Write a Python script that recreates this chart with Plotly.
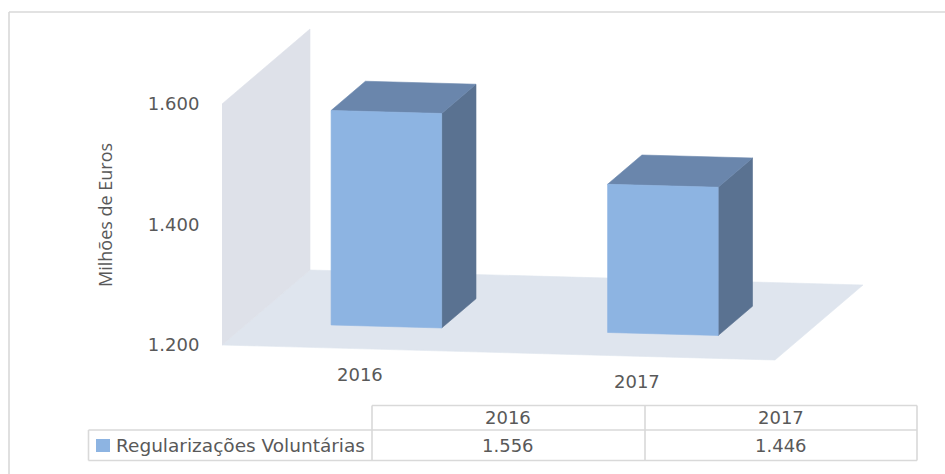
import plotly.graph_objects as go

categories = ["2016", "2017"]
series_name = "Regularizações Voluntárias"
values = [1556, 1446]
value_labels = ["1.556", "1.446"]
tick_values = [1200, 1400, 1600]
tick_labels = ["1.200", "1.400", "1.600"]
axis_title = "Milhões de Euros"

W, H = 945, 474
LEFT = 222          # pixel of category-axis start
BASE_PX = 345       # pixel of value 1200
PX_PER_CAT = 276.5
PX_PER_VAL = 0.6025
DEPTH_DX, DEPTH_DY = 88, 75
SLOPE = 7.5         # pixel drop per category unit along the front edge
BASE = tick_values[0]
TOP = tick_values[-1]
U_MAX = len(categories)
BAR_W, BAR_D0, BAR_D = 0.4, 0.297, 0.39
FONT = "DejaVu Sans"
TXT = "#595959"
GRID = "#d9d9d9"


def proj(u, d, v):
    """Oblique projection of (category, depth, value) onto the 2-D axes."""
    return (u + d * DEPTH_DX / PX_PER_CAT,
            v + (DEPTH_DY * d - SLOPE * u) / PX_PER_VAL)


def face(points, color):
    xy = [proj(*p) for p in points]
    xy.append(xy[0])
    return go.Scatter(x=[p[0] for p in xy], y=[p[1] for p in xy], mode="lines",
                      fill="toself", fillcolor=color, line=dict(width=0.6, color=color),
                      hoverinfo="skip", showlegend=False)


fig = go.Figure()
fig.add_trace(face([(0, 0, BASE), (0, 1, BASE), (U_MAX, 1, BASE), (U_MAX, 0, BASE)], "#dfe5ee"))
fig.add_trace(face([(0, 0, BASE), (0, 1, BASE), (0, 1, TOP), (0, 0, TOP)], "#dee1e9"))

for i, val in enumerate(values):
    a, b = i + 0.5 - BAR_W / 2, i + 0.5 + BAR_W / 2
    d0, d1 = BAR_D0, BAR_D0 + BAR_D
    fig.add_trace(face([(b, d0, BASE), (b, d1, BASE), (b, d1, val), (b, d0, val)], "#5a7291"))
    fig.add_trace(face([(a, d0, val), (a, d1, val), (b, d1, val), (b, d0, val)], "#6a86ac"))
    fig.add_trace(face([(a, d0, BASE), (b, d0, BASE), (b, d0, val), (a, d0, val)], "#8db4e2"))

annotations = []
for i, cat in enumerate(categories):
    x, y = proj(i + 0.5, 0, BASE)
    annotations.append(dict(x=x, y=y, text=cat, showarrow=False, yshift=-25.5, yanchor="middle",
                            font=dict(family=FONT, size=18, color=TXT)))


def px(x):
    return (x - LEFT) / (W - LEFT)


def py(y):
    return 1 - y / H


def note(x, y, text, size=18, family=FONT, xanchor="center", **kw):
    annotations.append(dict(x=px(x), y=py(y), xref="paper", yref="paper", text=text,
                            showarrow=False, xanchor=xanchor, yanchor="middle",
                            font=dict(family=family, size=size, color=TXT), **kw))


note(105, 215, axis_title, size=18, family="Open Sans", textangle=-90)
col_mid = [508, 781]
for cx, cat, lab in zip(col_mid, categories, value_labels):
    note(cx, 417, cat)
    note(cx, 445, lab)
note(114, 445, series_name, size=18.5, xanchor="left")

shapes = []


def rule(x0, y0, x1, y1):
    shapes.append(dict(type="line", xref="paper", yref="paper", x0=px(x0), y0=py(y0),
                       x1=px(x1), y1=py(y1), line=dict(color=GRID, width=1.6), layer="below"))


rule(9, 12, 9, 474)
rule(9, 12, 945, 12)
rule(372, 405.5, 917, 405.5)
rule(88.5, 430, 917, 430)
rule(88.5, 460.5, 917, 460.5)
rule(88.5, 430, 88.5, 460.5)
rule(372, 405.5, 372, 460.5)
rule(645, 405.5, 645, 460.5)
rule(917, 405.5, 917, 460.5)
shapes.append(dict(type="rect", xref="paper", yref="paper", x0=px(96), x1=px(110),
                   y0=py(452), y1=py(439), fillcolor="#8db4e2", line=dict(width=0)))

fig.update_layout(
    width=W, height=H, margin=dict(l=LEFT, r=0, t=0, b=0),
    autosize=False,
    paper_bgcolor="white", plot_bgcolor="white", showlegend=False,
    annotations=annotations, shapes=shapes,
    xaxis=dict(range=[0, (W - LEFT) / PX_PER_CAT], visible=False, fixedrange=True),
    yaxis=dict(range=[BASE - (H - BASE_PX) / PX_PER_VAL, BASE + BASE_PX / PX_PER_VAL],
               tickvals=tick_values, ticktext=tick_labels, showgrid=False, zeroline=False,
               showline=False, ticks="outside", ticklen=18, tickcolor="rgba(0,0,0,0)",
               tickfont=dict(family=FONT, size=18, color=TXT), fixedrange=True),
)
fig.write_html("out.html", config=dict(displayModeBar=False),
               post_script="document.body.style.margin='0';document.body.style.overflow='hidden';")
